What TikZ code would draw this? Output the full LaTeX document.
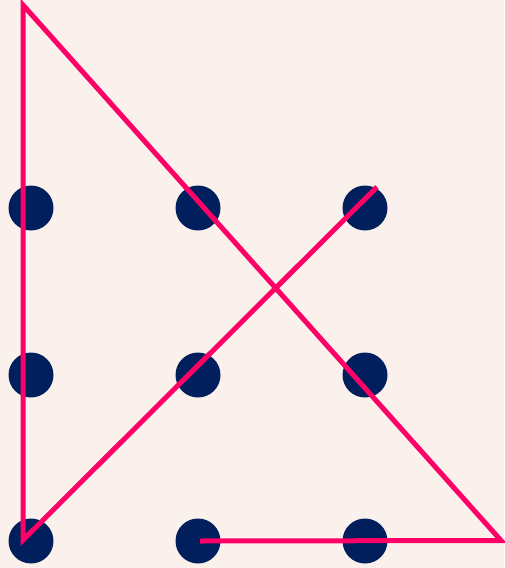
\documentclass[tikz,border=0pt]{standalone}
\definecolor{bgc}{HTML}{FBF1EC}
\definecolor{navy}{HTML}{001F5C}
\definecolor{pinkc}{HTML}{FF0066}
\begin{document}
\begin{tikzpicture}[x=1pt,y=-1pt,
  dot/.style={circle,fill=navy,minimum size=45pt,inner sep=0pt,draw=none},
  route/.style={draw=pinkc,line width=5pt,line join=miter,line cap=butt}]
\fill[bgc] (0,0) rectangle (504,568);
\useasboundingbox (0,0) rectangle (504,568);
\node[dot] (d11) at (31,208) {};
\node[dot] (d12) at (198,208) {};
\node[dot] (d13) at (365,208) {};
\node[dot] (d21) at (31,375) {};
\node[dot] (d22) at (198,375) {};
\node[dot] (d23) at (365,375) {};
\node[dot] (d31) at (31,541) {};
\node[dot] (d32) at (198,541) {};
\node[dot] (d33) at (365,541) {};
\coordinate (s) at (200,541);
\coordinate (r) at (501,540.5);
\coordinate (t) at (23,5);
\coordinate (b) at (23,540);
\coordinate (e) at (377,187);
\draw[route] (s) -- (r) -- (t) -- (b) -- (e);
\end{tikzpicture}
\end{document}
